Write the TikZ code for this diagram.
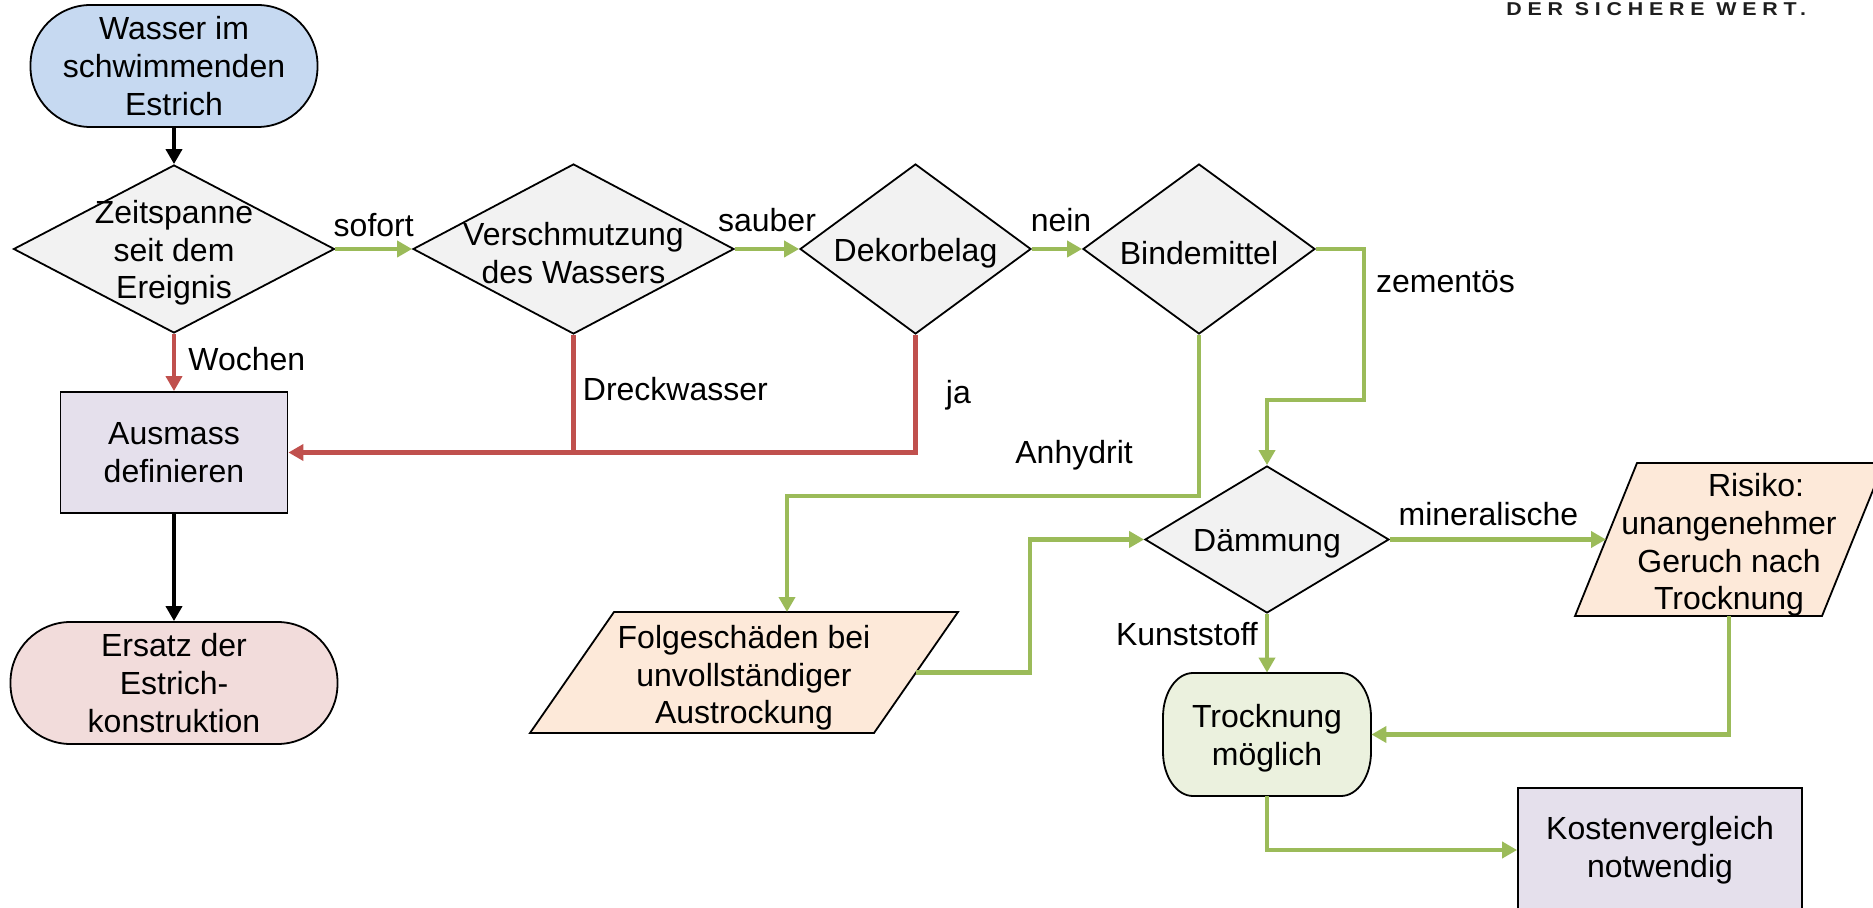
\documentclass[tikz,border=0pt]{standalone}
\usepackage{fontspec}
\setmainfont{Liberation Sans}
\newfontfamily\brandfont[LetterSpace=27]{Liberation Sans}
\usetikzlibrary{shapes.geometric,arrows.meta}
\definecolor{gr}{HTML}{9BBB59}
\definecolor{rd}{HTML}{C0504D}
\definecolor{startblue}{HTML}{C6D9F1}
\definecolor{dgray}{HTML}{F2F2F2}
\definecolor{lilac}{HTML}{E5E0EC}
\definecolor{rosa}{HTML}{F2DCDB}
\definecolor{peach}{HTML}{FDE9D9}
\definecolor{lgreen}{HTML}{EBF1DE}
\definecolor{brand}{HTML}{1E1E1E}
\tikzset{
  txt/.style={font=\fontsize{16}{18.8}\selectfont, align=center, inner sep=0pt},
  intxt/.style={txt, yshift=-2pt},
  lbl/.style={font=\fontsize{16}{18.8}\selectfont, inner sep=0pt},
  term/.style={txt, draw, line width=0.9pt, rounded corners=30pt},
  boxnode/.style={txt, draw, line width=0.9pt},
  dia/.style={diamond, draw, line width=0.9pt, fill=dgray, inner sep=0pt},
  outline/.style={draw, line width=0.9pt},
  tip/.style={-{Triangle[length=7.5pt,width=8pt]}},
  garr/.style={draw=gr, line width=2.25pt, tip},
  rarr/.style={draw=rd, line width=2.4pt, tip},
  rline/.style={draw=rd, line width=2.4pt},
  barr/.style={draw=black, line width=2.4pt, tip}
}
\begin{document}
\begin{tikzpicture}[x=0.5pt,y=-0.5pt]
\useasboundingbox (0,0) rectangle (1873,908);

% brand line
\node[anchor=base west, inner sep=0pt, text=brand, transform shape, xscale=1.15, font=\brandfont\bfseries\fontsize{9.3}{11}\selectfont] (brand) at (1506,16) {DER SICHERE WERT.};

% left column
\node[term, fill=startblue, minimum width=143.5pt, minimum height=61pt] (st) at (174,66) {Wasser im\\schwimmenden\\Estrich};
\node[dia, minimum width=160.5pt, minimum height=84pt] (zs) at (174,249) {};
\node[intxt] (zst) at (zs) {Zeitspanne\\seit dem\\Ereignis};
\node[boxnode, fill=lilac, minimum width=113.5pt, minimum height=60.5pt] (am) at (174,452.5) {Ausmass\\definieren};
\node[term, fill=rosa, minimum width=163.5pt, minimum height=61pt] (es) at (174,683) {Ersatz der\\Estrich-\\konstruktion};

% top row of decisions
\node[dia, minimum width=160.5pt, minimum height=85pt] (vs) at (573.5,249) {};
\node[intxt] (vst) at (vs) {Verschmutzung\\des Wassers};
\node[dia, minimum width=115.5pt, minimum height=85pt] (dk) at (915.5,249) {};
\node[intxt] (dkt) at (dk) {Dekorbelag};
\node[dia, minimum width=116pt, minimum height=85pt] (bm) at (1199,249) {};
\node[intxt] (bmt) at (bm) {Bindemittel};

% Daemmung
\node[dia, minimum width=122pt, minimum height=73.5pt] (dm) at (1267,539.5) {};
\node[intxt] (dmt) at (dm) {Dämmung};

% Folgeschaeden parallelogram
\path[outline, fill=peach] (614,612) -- (958,612) -- (874,733) -- (530,733) -- cycle;
\node[intxt] (fs) at (744,674) {Folgeschäden bei\\unvollständiger\\Austrockung};
\coordinate (fsN) at (787,612);
\coordinate (fsE) at (916,672.5);

% Risiko parallelogram
\path[outline, fill=peach] (1637,463) -- (1884,463) -- (1822,616) -- (1575,616) -- cycle;
\node[intxt] (rk) at (1729,541) {\hspace*{27pt}Risiko:\\unangenehmer\\Geruch nach\\Trocknung};
\coordinate (rkW) at (1606,539.5);
\coordinate (rkS) at (1729,616);

% Trocknung moeglich
\path[outline, fill=lgreen] (1193,673) -- (1341,673)
  .. controls (1357.6,673) and (1371,692.7) .. (1371,717) -- (1371,752)
  .. controls (1371,776.3) and (1357.6,796) .. (1341,796) -- (1193,796)
  .. controls (1176.4,796) and (1163,776.3) .. (1163,752) -- (1163,717)
  .. controls (1163,692.7) and (1176.4,673) .. (1193,673) -- cycle;
\node[inner sep=0pt, minimum width=104pt, minimum height=61.5pt] (tm) at (1267,734.5) {};
\node[intxt] (tmt) at (tm) {Trocknung\\möglich};

% Kostenvergleich
\node[boxnode, fill=lilac, minimum width=142pt, minimum height=62pt] (kv) at (1660,850) {Kostenvergleich\\notwendig};

% connectors
\draw[barr] (st.south) -- (zs.north);
\draw[barr] (am.south) -- (es.north);
\draw[rarr] (zs.south) -- node[lbl, pos=.644, anchor=base west, xshift=6pt] (l1) {Wochen} (am.north);
\draw[garr] (zs.east) -- node[lbl, anchor=base, yshift=6pt] (l2) {sofort} (vs.west);
\draw[garr] (vs.east) -- node[lbl, anchor=base, yshift=8.5pt] (l3) {sauber} (dk.west);
\draw[garr] (dk.east) -- node[lbl, anchor=base, yshift=8.5pt, xshift=2pt] (l4) {nein} (bm.west);
\draw[rline] (vs.south) -- node[lbl, pos=.555, anchor=base west, xshift=3.5pt] (l5) {Dreckwasser} (vs.south |- am.east);
\draw[rarr] (dk.south) |- node[lbl, pos=.29, anchor=base west, xshift=14pt] (l6) {ja} (am.east);
\draw[garr] (bm.east) -| node[lbl, pos=.645, anchor=base west, xshift=5pt] (l7) {zementös} ++(48,151) -| (dm.north);
\draw[garr] (bm.south) |- node[lbl, pos=.40, anchor=base east, xshift=-32pt] (l8) {Anhydrit} ++(-412,161) -- (fsN);
\draw[garr] (fsE) -- ++(114,0) |- (dm.west);
\draw[garr] (dm.east) -- node[lbl, anchor=base, yshift=6.75pt, xshift=-4.75pt] (l9) {mineralische} (rkW);
\draw[garr] (dm.south) -- node[lbl, pos=.53, anchor=base east, xshift=-3.5pt] (l10) {Kunststoff} (tm.north);
\draw[garr] (rkS) |- (tm.east);
\draw[garr] (tm.south) |- (kv.west);
\end{tikzpicture}
\end{document}
